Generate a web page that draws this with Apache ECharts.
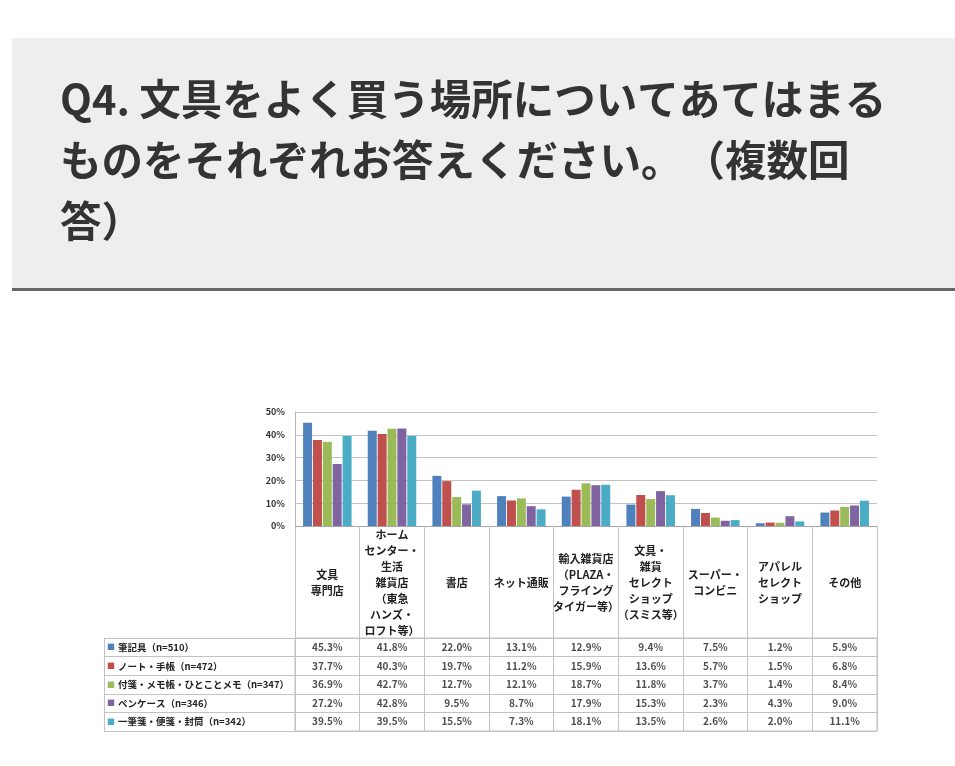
<!DOCTYPE html>
<html>
<head>
<meta charset="utf-8">
<script src="https://cdn.jsdelivr.net/npm/echarts@6/dist/echarts.min.js"></script>
<style>
  html, body { margin: 0; padding: 0; background: #ffffff; }
  #chart { width: 955px; height: 766px; }
</style>
</head>
<body>
<div id="chart"></div>
<script>
const titleLines = [
  'Q4. 文具をよく買う場所についてあてはまる',
  'ものをそれぞれお答えください。{g| }（複数回',
  '答）'
];

const categories = [
  '文具\n専門店',
  'ホーム\nセンター・\n生活\n雑貨店\n（東急\nハンズ・\nロフト等）',
  '書店',
  'ネット通販',
  '輸入雑貨店\n（PLAZA・\nフライング\nタイガー等）',
  '文具・\n雑貨\nセレクト\nショップ\n（スミス等）',
  'スーパー・\nコンビニ',
  'アパレル\nセレクト\nショップ',
  'その他'
];

const seriesNames = [
  '筆記具（n=510）',
  'ノート・手帳（n=472）',
  '付箋・メモ帳・ひとことメモ（n=347）',
  'ペンケース（n=346）',
  '一筆箋・便箋・封筒（n=342）'
];

const hikkigu   = [45.3, 41.8, 22.0, 13.1, 12.9,  9.4, 7.5, 1.2,  5.9];
const note      = [37.7, 40.3, 19.7, 11.2, 15.9, 13.6, 5.7, 1.5,  6.8];
const fusen     = [36.9, 42.7, 12.7, 12.1, 18.7, 11.8, 3.7, 1.4,  8.4];
const pencase   = [27.2, 42.8,  9.5,  8.7, 17.9, 15.3, 2.3, 4.3,  9.0];
const ippitsu   = [39.5, 39.5, 15.5,  7.3, 18.1, 13.5, 2.6, 2.0, 11.1];

const seriesValues = [hikkigu, note, fusen, pencase, ippitsu];
const colors = ['#4F81BD', '#C0504D', '#9BBB59', '#8064A2', '#4BACC6'];

const FONT = '"Noto Sans CJK JP", "Noto Sans", sans-serif';
const lineColor = '#c3c3c3';

const rich = {};
colors.forEach((c, i) => {
  rich['m' + i] = { color: c, fontSize: 8, fontFamily: FONT, padding: [0, 3, 0, 0] };
});
rich.t = { color: '#222', fontSize: 9.5, fontFamily: FONT, fontWeight: 'bold' };

const tableData = [];
seriesValues.forEach((vals, j) => {
  vals.forEach((v, i) => tableData.push([i, j, v]));
});

const chart = echarts.init(document.getElementById('chart'), null, { renderer: 'canvas' });

const option = {
  animation: false,
  backgroundColor: '#ffffff',
  title: {
    text: titleLines.join('\n'),
    left: 60,
    top: 69,
    padding: 0,
    textStyle: {
      fontFamily: FONT,
      fontSize: 41.5,
      fontWeight: 'bold',
      color: '#333333',
      lineHeight: 61,
      rich: {
        g: { width: 1, fontSize: 41.5, lineHeight: 61, fontFamily: FONT }
      }
    }
  },
  graphic: [
    { type: 'rect', z: -10, shape: { x: 12, y: 38, width: 943, height: 250 }, style: { fill: '#eeeeee' } },
    { type: 'rect', z: -10, shape: { x: 12, y: 288, width: 943, height: 3 }, style: { fill: '#666666' } }
  ],
  grid: [
    { left: 295, top: 412, width: 582, height: 114 },
    { left: 295, top: 638, width: 582, height: 93, show: true, borderColor: lineColor, borderWidth: 1, backgroundColor: 'transparent' }
  ],
  xAxis: [
    {
      gridIndex: 0,
      type: 'category',
      data: categories,
      axisLine: { show: true, lineStyle: { color: '#a6a6a6' } },
      axisTick: { show: true, interval: 0, alignWithLabel: false, length: 112, lineStyle: { color: lineColor } },
      axisLabel: {
        interval: 0,
        fontFamily: FONT,
        fontSize: 11,
        lineHeight: 16,
        color: '#222',
        fontWeight: 'bold',
        verticalAlign: 'middle',
        margin: 57
      },
      splitLine: { show: false }
    },
    {
      gridIndex: 1,
      type: 'category',
      data: categories,
      axisLine: { show: false },
      axisTick: { show: false },
      axisLabel: { show: false },
      splitLine: { show: true, interval: 0, lineStyle: { color: lineColor } }
    }
  ],
  yAxis: [
    {
      gridIndex: 0,
      type: 'value',
      min: 0,
      max: 50,
      interval: 10,
      axisLine: { show: true, lineStyle: { color: '#b5b5b5' } },
      axisTick: { show: false },
      axisLabel: {
        formatter: '{value}%',
        fontFamily: FONT,
        fontSize: 9,
        fontWeight: 'bold',
        color: '#333',
        margin: 10
      },
      splitLine: { show: true, lineStyle: { color: lineColor } }
    },
    {
      gridIndex: 1,
      type: 'category',
      inverse: true,
      data: seriesNames,
      axisLine: { show: true, lineStyle: { color: lineColor } },
      axisTick: { show: true, interval: 0, alignWithLabel: false, length: 191, lineStyle: { color: lineColor } },
      axisLabel: {
        interval: 0,
        align: 'left',
        margin: 188,
        formatter: (val, idx) => '{m' + idx + '|■}{t|' + val + '}',
        rich: rich
      },
      splitLine: { show: true, interval: 0, lineStyle: { color: lineColor } }
    },
    {
      gridIndex: 1,
      type: 'category',
      inverse: true,
      position: 'left',
      offset: 191,
      data: seriesNames,
      axisLine: { show: true, lineStyle: { color: lineColor } },
      axisTick: { show: false },
      axisLabel: { show: false },
      splitLine: { show: false }
    }
  ],
  series: seriesNames.map((name, j) => ({
    name: name,
    type: 'bar',
    xAxisIndex: 0,
    yAxisIndex: 0,
    data: seriesValues[j],
    itemStyle: { color: colors[j] },
    barGap: '10%',
    barCategoryGap: '25%'
  })).concat([
    {
      type: 'scatter',
      xAxisIndex: 1,
      yAxisIndex: 1,
      data: tableData,
      symbolSize: 1,
      itemStyle: { color: 'rgba(0,0,0,0)' },
      label: {
        show: true,
        position: 'inside',
        formatter: p => p.value[2].toFixed(1) + '%',
        fontFamily: FONT,
        fontSize: 10,
        fontWeight: 'bold',
        color: '#222'
      }
    }
  ])
};

chart.setOption(option);
</script>
</body>
</html>
